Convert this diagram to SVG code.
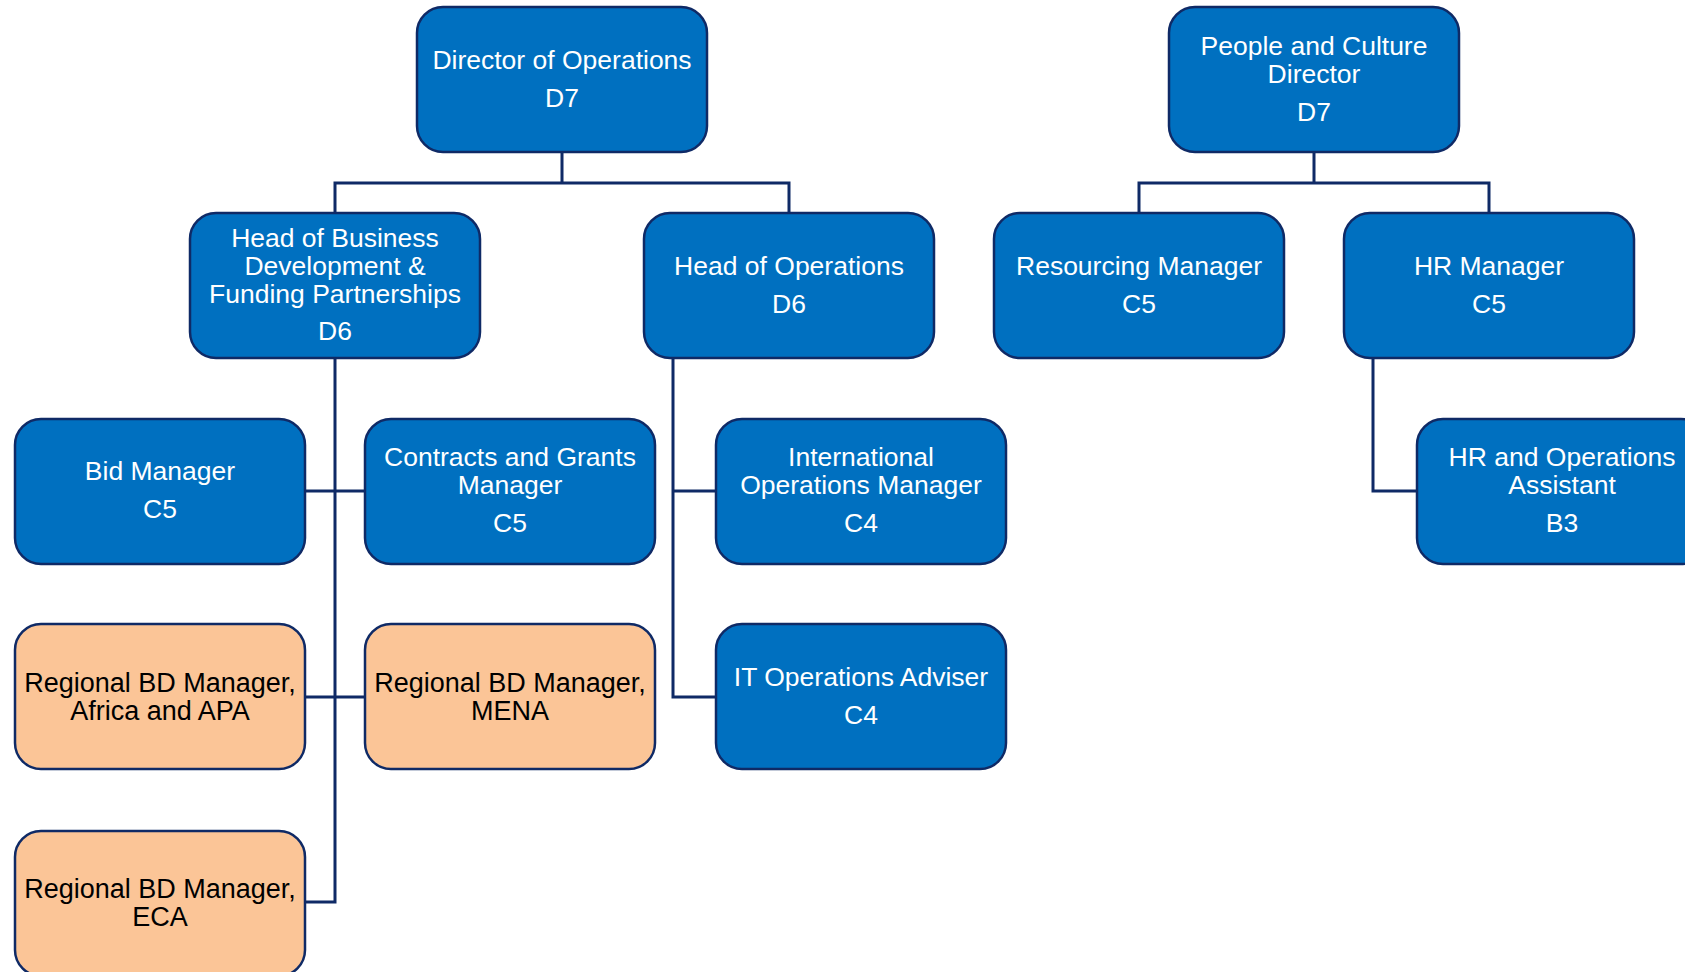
<svg xmlns="http://www.w3.org/2000/svg" width="1685" height="972" viewBox="0 0 1685 972">
<style>
.b{fill:#0070C0;stroke:#0F2A66;stroke-width:2.5}
.o{fill:#FBC597;stroke:#0F2A66;stroke-width:2.5}
.t{font-family:"Liberation Sans",Arial,sans-serif;font-size:26.5px;text-anchor:middle;fill:#FFFFFF}
.k{font-family:"Liberation Sans",Arial,sans-serif;font-size:27px;text-anchor:middle;fill:#000000}
.c{fill:none;stroke:#0F2A66;stroke-width:3}
</style>
<rect width="1685" height="972" fill="#FFFFFF"/>
<g id="connectors">
<path class="c" d="M562 152 V183 M335 213 V183 H789 V213"/>
<path class="c" d="M1314 152 V183 M1139 213 V183 H1489 V213"/>
<path class="c" d="M335 358 V902 H304 M304 491 H365 M304 697 H365"/>
<path class="c" d="M673 358 V697 H716 M673 491 H716"/>
<path class="c" d="M1373 358 V491 H1417"/>
</g>
<g id="director-ops"><rect class="b" x="417" y="7" width="290" height="145" rx="26"/>
<text class="t" x="562" y="69">Director of Operations</text><text class="t" x="562" y="107">D7</text></g>
<g id="people-culture"><rect class="b" x="1169" y="7" width="290" height="145" rx="26"/>
<text class="t" x="1314" y="55">People and Culture</text><text class="t" x="1314" y="83">Director</text><text class="t" x="1314" y="121">D7</text></g>
<g id="head-bd"><rect class="b" x="190" y="213" width="290" height="145" rx="26"/>
<text class="t" x="335" y="247">Head of Business</text><text class="t" x="335" y="275">Development &amp;</text><text class="t" x="335" y="303">Funding Partnerships</text><text class="t" x="335" y="340">D6</text></g>
<g id="head-ops"><rect class="b" x="644" y="213" width="290" height="145" rx="26"/>
<text class="t" x="789" y="275">Head of Operations</text><text class="t" x="789" y="313">D6</text></g>
<g id="resourcing"><rect class="b" x="994" y="213" width="290" height="145" rx="26"/>
<text class="t" x="1139" y="275">Resourcing Manager</text><text class="t" x="1139" y="313">C5</text></g>
<g id="hr-manager"><rect class="b" x="1344" y="213" width="290" height="145" rx="26"/>
<text class="t" x="1489" y="275">HR Manager</text><text class="t" x="1489" y="313">C5</text></g>
<g id="bid-manager"><rect class="b" x="15" y="419" width="290" height="145" rx="26"/>
<text class="t" x="160" y="480">Bid Manager</text><text class="t" x="160" y="518">C5</text></g>
<g id="contracts"><rect class="b" x="365" y="419" width="290" height="145" rx="26"/>
<text class="t" x="510" y="466">Contracts and Grants</text><text class="t" x="510" y="494">Manager</text><text class="t" x="510" y="532">C5</text></g>
<g id="intl-ops"><rect class="b" x="716" y="419" width="290" height="145" rx="26"/>
<text class="t" x="861" y="466">International</text><text class="t" x="861" y="494">Operations Manager</text><text class="t" x="861" y="532">C4</text></g>
<g id="hr-assistant"><rect class="b" x="1417" y="419" width="290" height="145" rx="26"/>
<text class="t" x="1562" y="466">HR and Operations</text><text class="t" x="1562" y="494">Assistant</text><text class="t" x="1562" y="532">B3</text></g>
<g id="rbd-africa"><rect class="o" x="15" y="624" width="290" height="145" rx="26"/>
<text class="k" x="160" y="692">Regional BD Manager,</text><text class="k" x="160" y="720">Africa and APA</text></g>
<g id="rbd-mena"><rect class="o" x="365" y="624" width="290" height="145" rx="26"/>
<text class="k" x="510" y="692">Regional BD Manager,</text><text class="k" x="510" y="720">MENA</text></g>
<g id="it-ops"><rect class="b" x="716" y="624" width="290" height="145" rx="26"/>
<text class="t" x="861" y="686">IT Operations Adviser</text><text class="t" x="861" y="724">C4</text></g>
<g id="rbd-eca"><rect class="o" x="15" y="831" width="290" height="145" rx="26"/>
<text class="k" x="160" y="898">Regional BD Manager,</text><text class="k" x="160" y="926">ECA</text></g>
</svg>
